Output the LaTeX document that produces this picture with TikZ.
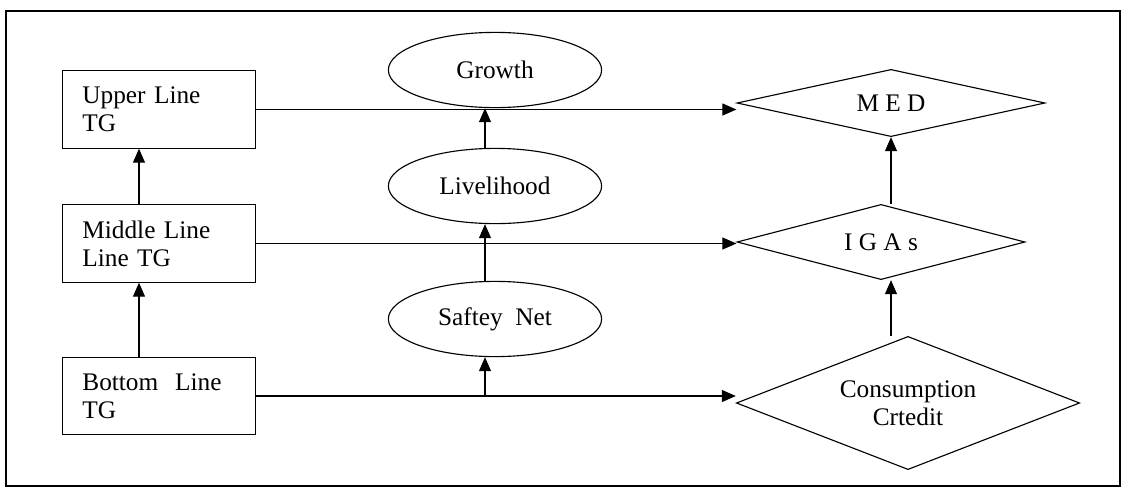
\documentclass[tikz,border=0pt]{standalone}
\usepackage{fontspec}
\setmainfont{Liberation Serif}
\usetikzlibrary{shapes.geometric,arrows.meta}
\begin{document}
\begin{tikzpicture}[x=0.025cm,y=-0.025cm,line width=0.8pt,
    every node/.style={font=\fontsize{18}{20}\selectfont},
    tgbox/.style={draw,rectangle,align=left,text width=3.83cm,inner xsep=0.5cm,
      minimum height=1.93cm},
    goal/.style={draw,ellipse,minimum width=5.33cm,minimum height=1.88cm},
    level/.style={draw,diamond,inner sep=0pt}]
  \useasboundingbox (0,0) rectangle (1126,489);
  \draw (6,11) rectangle (1120,486);
  \draw
    (159,109.5) node[tgbox] (upper){Upper Line\\TG}
    (159,243.5) node[tgbox] (middle){Middle Line\\Line TG}
    (159,396) node[tgbox] (bottom){Bottom\ \ Line\\TG}
    (495,70) node[goal] (growth){Growth}
    (495,186) node[goal] (live){Livelihood}
    (495,319) node[goal] (safety){Saftey\ \ Net}
    (891,103) node[level,aspect=4.6,minimum width=7.7cm,minimum height=1.68cm] (med){M E D}
    (881,242) node[level,aspect=3.8,minimum width=7.2cm,minimum height=1.88cm] (igas){I G A s}
    (908,403) node[level,aspect=2.6,minimum width=8.58cm,minimum height=3.33cm,align=center] (cons){Consumption\\Crtedit};
  \begin{scope}[-{Triangle[length=3.5mm,width=3mm]}]
    \draw ([xshift=-0.5cm]middle.north) to ([xshift=-0.5cm]upper.south);
    \draw ([xshift=-0.5cm]bottom.north) to ([xshift=-0.5cm]middle.south);
    \draw (upper.east) to[shorten >=0.55cm] (upper.east -| med.west);
    \draw (middle.east) to[shorten >=0.1cm] (middle.east -| igas.west);
    \draw (bottom.east) to[shorten >=0.12cm] (bottom.east -| cons.west);
    \draw ([xshift=-0.25cm]safety.south |- bottom.east) to ([xshift=-0.25cm]safety.south);
    \draw ([xshift=-0.25cm]safety.north) to ([xshift=-0.25cm]live.south);
    \draw ([xshift=-0.25cm]live.north) to[shorten <=0.28cm,shorten >=0.12cm] ([xshift=-0.25cm]growth.south);
    \draw (cons.north -| med.south) to (igas.south -| med.south);
    \draw (igas.north -| med.south) to[shorten <=0.22cm,shorten >=0.32cm] (med.south);
  \end{scope}
\end{tikzpicture}
\end{document}
